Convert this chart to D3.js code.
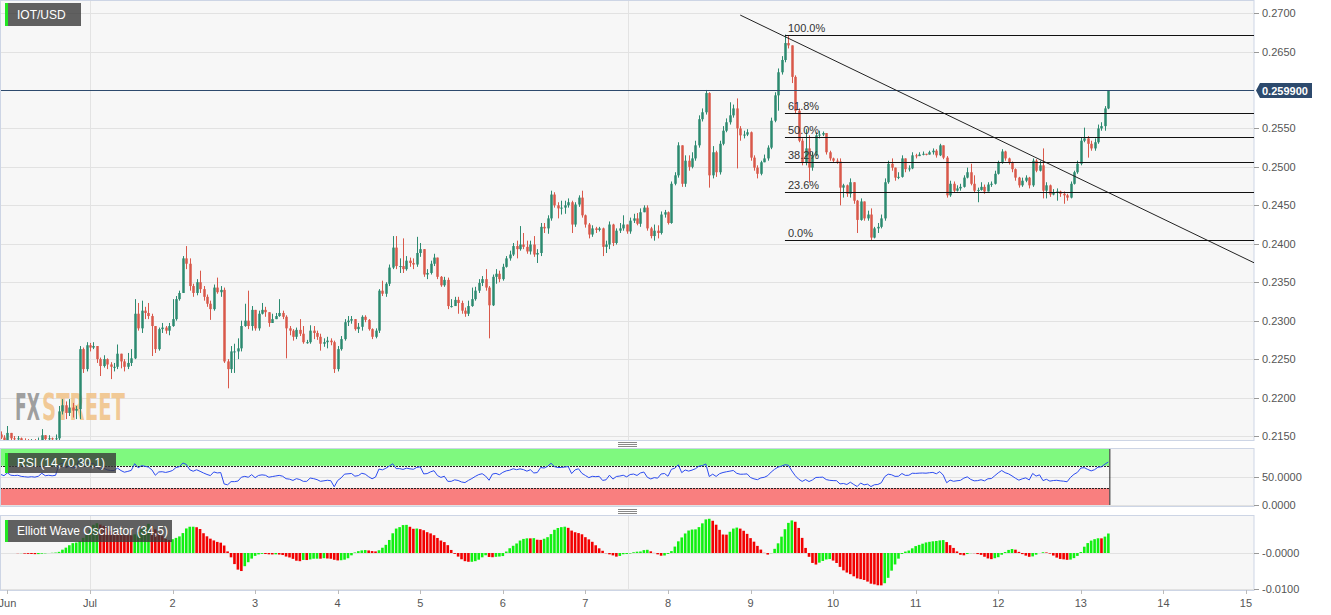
<!DOCTYPE html>
<html>
<head>
<meta charset="utf-8">
<script src="https://cdn.jsdelivr.net/npm/d3@7"></script>
<style>
  body { margin: 0; background: #fff; }
  svg text { font-family: "Liberation Sans", Arial, sans-serif; }
</style>
</head>
<body>
<script>
'use strict';

// ---- data (hourly candles, IOT/USD) ----
const symbol = 'IOT/USD';
const firstCandle = new Date(Date.UTC(2020, 5, 29, 22));
const firstOpen = 0.2152;

const closes = [
  0.2148,0.2144,0.2154,0.2147,0.2146,0.2147,0.2144,0.2143,0.2142,0.2143,0.2142,0.2144,0.2151,0.2146,0.2147,0.2146,0.2147,
  0.2182,0.2190,0.2180,0.2187,0.2183,0.2185,
  0.2263,0.2237,0.2268,0.2265,0.2267,0.2250,0.2241,0.2250,0.2243,0.2240,0.2240,0.2257,0.2247,0.2240,0.2245,0.2251,
  0.2309,0.2290,0.2313,0.2310,0.2306,0.2293,0.2263,0.2289,0.2291,0.2287,0.2293,
  0.2302,0.2328,0.2336,0.2381,0.2374,0.2345,0.2336,0.2350,0.2341,0.2331,0.2322,0.2315,0.2343,0.2337,0.2340,
  0.2247,0.2237,0.2260,0.2260,0.2264,0.2293,0.2300,0.2293,0.2314,0.2290,0.2309,0.2314,0.2311,0.2297,0.2302,0.2306,0.2310,0.2305,
  0.2290,0.2287,0.2279,0.2288,0.2283,0.2272,0.2272,0.2287,0.2284,0.2279,0.2270,0.2272,0.2274,0.2272,0.2237,0.2263,0.2276,
  0.2298,0.2300,0.2302,0.2289,0.2292,0.2305,0.2301,0.2289,0.2279,0.2287,
  0.2339,0.2335,0.2348,0.2369,0.2395,0.2371,0.2371,0.2367,0.2378,0.2375,0.2373,0.2388,0.2393,0.2360,0.2362,0.2374,0.2382,0.2357,0.2346,0.2353,
  0.2319,0.2319,0.2327,0.2323,0.2313,0.2309,0.2319,0.2328,0.2339,0.2349,0.2354,0.2343,0.2320,
  0.2357,0.2361,0.2354,0.2370,0.2381,0.2386,0.2397,0.2393,0.2399,0.2396,0.2390,0.2399,0.2386,0.2388,
  0.2422,0.2420,0.2433,0.2464,0.2450,0.2446,0.2447,0.2450,0.2454,0.2425,0.2451,0.2460,0.2437,0.2425,0.2412,0.2420,0.2418,0.2420,
  0.2396,0.2399,0.2425,0.2401,0.2417,0.2420,0.2425,0.2416,0.2430,0.2433,0.2426,0.2441,0.2447,0.2420,0.2410,0.2417,0.2414,0.2438,0.2441,0.2427,
  0.2478,0.2489,0.2528,0.2478,0.2508,0.2500,0.2511,0.2528,0.2562,0.2571,0.2596,0.2489,0.2519,0.2493,0.2530,0.2547,0.2558,0.2567,0.2576,
  0.2550,0.2541,0.2542,0.2545,0.2512,0.2499,0.2491,0.2506,0.2511,0.2525,0.2560,0.2593,0.2623,0.2639,0.2661,0.2658,
  0.2617,0.2573,0.2534,0.2506,0.2524,0.2499,0.2515,0.2541,0.2542,0.2544,0.2519,0.2511,0.2508,0.2507,
  0.2473,0.2476,0.2465,0.2480,0.2456,0.2431,0.2455,0.2433,0.2438,0.2408,0.2420,0.2422,0.2433,
  0.2480,0.2504,0.2499,0.2486,0.2487,0.2511,0.2497,0.2498,0.2515,0.2514,0.2516,0.2517,0.2516,0.2519,0.2521,0.2515,0.2528,0.2512,
  0.2463,0.2478,0.2469,0.2472,0.2474,0.2486,0.2493,0.2478,0.2469,0.2470,0.2474,0.2468,0.2477,0.2478,0.2491,0.2506,0.2520,
  0.2511,0.2506,0.2497,0.2486,0.2476,0.2482,0.2486,0.2476,0.2508,0.2495,0.2502,0.2469,0.2476,0.2464,0.2467,0.2468,0.2465,0.2463,0.2460,
  0.2478,0.2493,0.2504,0.2534,0.2537,0.2530,0.2524,0.2532,0.2550,0.2553,0.2576,0.2599
];

const highs = [
  0.2156,0.2151,0.2163,0.2154,0.2150,0.2150,0.2148,0.2147,0.2146,0.2146,0.2146,0.2148,0.2159,0.2151,0.2151,0.2148,0.2152,
  0.2189,0.2198,0.2195,0.2198,0.2193,0.2189,
  0.2267,0.2265,0.2272,0.2271,0.2272,0.2265,0.2252,0.2255,0.2251,0.2246,0.2245,0.2269,0.2254,0.2250,0.2258,0.2263,
  0.2328,0.2323,0.2326,0.2318,0.2323,0.2309,0.2293,0.2291,0.2297,0.2293,0.2297,
  0.2328,0.2332,0.2339,0.2384,0.2397,0.2381,0.2348,0.2354,0.2365,0.2345,0.2334,0.2326,0.2347,0.2356,0.2345,
  0.2343,0.2250,0.2267,0.2270,0.2277,0.2300,0.2322,0.2339,0.2319,0.2314,0.2313,0.2323,0.2318,0.2302,0.2309,0.2310,0.2328,0.2313,
  0.2307,0.2293,0.2289,0.2291,0.2302,0.2293,0.2275,0.2294,0.2293,0.2287,0.2283,0.2277,0.2279,0.2277,0.2274,0.2267,0.2280,
  0.2302,0.2306,0.2306,0.2302,0.2297,0.2307,0.2307,0.2302,0.2290,0.2290,
  0.2341,0.2352,0.2350,0.2373,0.2410,0.2410,0.2381,0.2407,0.2384,0.2382,0.2381,0.2409,0.2401,0.2393,0.2367,0.2378,0.2387,0.2375,0.2358,0.2357,
  0.2356,0.2328,0.2331,0.2331,0.2326,0.2317,0.2326,0.2343,0.2344,0.2354,0.2358,0.2367,0.2345,
  0.2360,0.2367,0.2365,0.2374,0.2384,0.2391,0.2401,0.2404,0.2423,0.2414,0.2404,0.2404,0.2410,0.2393,
  0.2427,0.2427,0.2437,0.2469,0.2467,0.2454,0.2456,0.2456,0.2459,0.2456,0.2454,0.2463,0.2469,0.2438,0.2427,0.2424,0.2422,0.2422,
  0.2421,0.2404,0.2429,0.2426,0.2420,0.2427,0.2437,0.2425,0.2434,0.2439,0.2440,0.2446,0.2450,0.2450,0.2422,0.2425,0.2424,0.2442,0.2444,0.2442,
  0.2481,0.2493,0.2532,0.2528,0.2515,0.2515,0.2519,0.2534,0.2567,0.2576,0.2600,0.2597,0.2527,0.2521,0.2534,0.2553,0.2563,0.2584,0.2581,
  0.2589,0.2553,0.2547,0.2549,0.2546,0.2515,0.2502,0.2508,0.2516,0.2528,0.2564,0.2597,0.2628,0.2644,0.2672,0.2670,
  0.2657,0.2619,0.2576,0.2537,0.2549,0.2541,0.2519,0.2545,0.2547,0.2546,0.2544,0.2521,0.2512,0.2511,
  0.2511,0.2478,0.2477,0.2485,0.2469,0.2457,0.2459,0.2452,0.2443,0.2446,0.2422,0.2427,0.2438,
  0.2485,0.2508,0.2511,0.2498,0.2493,0.2515,0.2508,0.2502,0.2519,0.2517,0.2519,0.2520,0.2517,0.2521,0.2524,0.2523,0.2530,0.2528,
  0.2514,0.2482,0.2481,0.2476,0.2478,0.2489,0.2499,0.2504,0.2489,0.2473,0.2480,0.2477,0.2480,0.2481,0.2495,0.2508,0.2523,
  0.2521,0.2512,0.2507,0.2498,0.2487,0.2486,0.2489,0.2487,0.2511,0.2510,0.2508,0.2524,0.2480,0.2477,0.2471,0.2472,0.2469,0.2468,0.2465,
  0.2481,0.2495,0.2508,0.2538,0.2551,0.2540,0.2534,0.2537,0.2555,0.2558,0.2579,0.2599
];

const lows = [
  0.2146,0.2142,0.2143,0.2143,0.2142,0.2143,0.2140,0.2139,0.2138,0.2139,0.2138,0.2140,0.2143,0.2143,0.2143,0.2142,0.2143,
  0.2144,0.2178,0.2172,0.2176,0.2174,0.2172,
  0.2172,0.2232,0.2234,0.2260,0.2263,0.2245,0.2228,0.2239,0.2237,0.2224,0.2234,0.2237,0.2238,0.2234,0.2237,0.2241,
  0.2250,0.2287,0.2284,0.2302,0.2302,0.2254,0.2258,0.2261,0.2284,0.2283,0.2281,
  0.2292,0.2300,0.2326,0.2336,0.2367,0.2339,0.2331,0.2333,0.2336,0.2326,0.2318,0.2301,0.2313,0.2335,0.2331,
  0.2245,0.2212,0.2232,0.2232,0.2250,0.2260,0.2292,0.2289,0.2287,0.2287,0.2287,0.2308,0.2305,0.2292,0.2297,0.2302,0.2305,0.2302,
  0.2251,0.2281,0.2274,0.2276,0.2280,0.2270,0.2270,0.2270,0.2276,0.2275,0.2261,0.2266,0.2264,0.2268,0.2232,0.2234,0.2261,
  0.2274,0.2293,0.2296,0.2287,0.2284,0.2287,0.2298,0.2287,0.2276,0.2277,
  0.2284,0.2332,0.2331,0.2345,0.2367,0.2367,0.2362,0.2362,0.2365,0.2370,0.2367,0.2370,0.2383,0.2357,0.2354,0.2360,0.2371,0.2354,0.2344,0.2344,
  0.2315,0.2317,0.2319,0.2309,0.2309,0.2305,0.2306,0.2318,0.2326,0.2336,0.2345,0.2339,0.2277,
  0.2319,0.2348,0.2350,0.2352,0.2369,0.2378,0.2384,0.2381,0.2391,0.2393,0.2387,0.2386,0.2383,0.2375,
  0.2384,0.2414,0.2413,0.2430,0.2447,0.2433,0.2438,0.2439,0.2447,0.2414,0.2422,0.2448,0.2434,0.2421,0.2407,0.2409,0.2414,0.2416,
  0.2384,0.2388,0.2393,0.2397,0.2399,0.2414,0.2417,0.2413,0.2413,0.2427,0.2424,0.2422,0.2441,0.2417,0.2407,0.2404,0.2407,0.2412,0.2434,0.2425,
  0.2426,0.2476,0.2486,0.2474,0.2474,0.2495,0.2498,0.2508,0.2525,0.2559,0.2568,0.2473,0.2485,0.2487,0.2490,0.2528,0.2545,0.2555,0.2564,
  0.2498,0.2534,0.2537,0.2540,0.2508,0.2495,0.2485,0.2489,0.2506,0.2508,0.2523,0.2558,0.2573,0.2620,0.2636,0.2654,
  0.2609,0.2570,0.2532,0.2502,0.2502,0.2480,0.2495,0.2514,0.2537,0.2540,0.2516,0.2508,0.2506,0.2504,
  0.2450,0.2460,0.2461,0.2460,0.2452,0.2414,0.2430,0.2430,0.2430,0.24045,0.2407,0.2414,0.2420,
  0.2430,0.2478,0.2495,0.2482,0.2484,0.2486,0.2493,0.2494,0.2497,0.2511,0.2514,0.2515,0.2515,0.2516,0.2516,0.2512,0.2514,0.2510,
  0.2460,0.2461,0.2467,0.2468,0.2469,0.2473,0.2485,0.2476,0.2467,0.2454,0.2469,0.2465,0.2470,0.2474,0.2477,0.2490,0.2504,
  0.2508,0.2503,0.2493,0.2482,0.2473,0.2474,0.2480,0.2472,0.2474,0.2493,0.2494,0.2459,0.2459,0.2461,0.2463,0.2456,0.2461,0.2452,0.2456,
  0.2459,0.2477,0.2491,0.2502,0.2532,0.2512,0.2521,0.2521,0.2530,0.2547,0.2547,0.2575
];

const lastPrice = 0.2599;
const fibStart = new Date(Date.UTC(2020, 6, 9, 10));
const fibHigh = 0.2672;
const fibLow = 0.24045;
const fibLevels = [1, 0.618, 0.5, 0.382, 0.236, 0];
const fibLabels = ['100.0%', '61.8%', '50.0%', '38.2%', '23.6%', '0.0%'];
const trendPoints = [
  { date: new Date(Date.UTC(2020, 6, 8, 21)), price: 0.26974 },
  { date: new Date(Date.UTC(2020, 6, 15, 2, 20)), price: 0.23753 }
];

const priceTicks = [0.2150, 0.2200, 0.2250, 0.2300, 0.2350, 0.2400, 0.2450, 0.2500, 0.2550, 0.2600, 0.2650, 0.2700];
const rsiTicks = [0, 50];
const rsiTickLabels = ['0.0000', '50.0000'];
const rsiBands = [70, 30];
// average gain / loss carried in from the hours before the first candle
const rsiSeedGain = 0.0004, rsiSeedLoss = 0.0003;
const ewoTicks = [0, -0.01];
const ewoTickLabels = ['-0.0000', '-0.0100'];
const dayLabels = ['Jun', 'Jul', '2', '3', '4', '5', '6', '7', '8', '9', '10', '11', '12', '13', '14', '15'];
const gridDates = [new Date(Date.UTC(2020, 6, 1)), new Date(Date.UTC(2020, 6, 7, 12, 20))];

// ---- layout ----
var width = 1331, height = 615;
var plotRight = 1254;
var main = { top: 0, bottom: 440 },
    rsiP = { top: 448, bottom: 506 },
    ewoP = { top: 515, bottom: 590 };

var green = '#2c8a70', red = '#d9584a';

var svg = d3.select('body').append('svg')
  .attr('width', width)
  .attr('height', height);

var x = d3.scaleUtc()
  .domain([new Date(Date.UTC(2020, 5, 29, 21, 51)), new Date(Date.UTC(2020, 6, 15, 2, 20))])
  .range([0, plotRight]);
var y = d3.scaleLinear().domain([0.21448, 0.27170]).range([main.bottom, main.top]);
var yRsi = d3.scaleLinear().domain([-1.8, 101.8]).range([rsiP.bottom, rsiP.top]);
var yEwo = d3.scaleLinear().domain([-0.01028, 0.01056]).range([ewoP.bottom, ewoP.top]);

var candles = closes.map(function(c, i) {
  var o = i ? closes[i - 1] : firstOpen;
  return {
    date: d3.utcHour.offset(firstCandle, i),
    open: o,
    close: c,
    high: Math.max(highs[i], o, c),
    low: Math.min(lows[i], o, c)
  };
});

// RSI(14) with Wilder smoothing
(function() {
  var ag = rsiSeedGain, al = rsiSeedLoss;
  candles.forEach(function(d) {
    var ch = d.close - d.open;
    ag = (ag * 13 + Math.max(ch, 0)) / 14;
    al = (al * 13 + Math.max(-ch, 0)) / 14;
    d.rsi = al === 0 ? 100 : 100 - 100 / (1 + ag / al);
  });
})();

// Elliott Wave Oscillator: SMA(5) - SMA(34) of the median price
function sma(i, n) {
  var s = Math.max(0, i - n + 1);
  return d3.mean(candles.slice(s, i + 1), function(d) { return (d.high + d.low) / 2; });
}
candles.forEach(function(d, i) {
  d.ewo = sma(i, 5) - sma(i, 34);
  d.ewoUp = i === 0 ? true : d.ewo >= candles[i - 1].ewo;
});

// ---- panels ----
[main, rsiP, ewoP].forEach(function(p, k) {
  svg.append('rect')
    .attr('x', 0.5).attr('y', p.top + 0.5)
    .attr('width', plotRight - 0.5).attr('height', p.bottom - p.top)
    .attr('fill', '#f7f7f7')
    .attr('stroke', '#cdd5e5');
  svg.append('clipPath').attr('id', 'clip' + k)
    .append('rect').attr('x', 1).attr('y', p.top + 1)
    .attr('width', plotRight - 1).attr('height', p.bottom - p.top - 1);
});

// vertical grid
[main, rsiP, ewoP].forEach(function(p) {
  svg.append('g').selectAll('line').data(gridDates).enter().append('line')
    .attr('x1', function(d) { return Math.round(x(d)) + 0.5; })
    .attr('x2', function(d) { return Math.round(x(d)) + 0.5; })
    .attr('y1', p.top + 1).attr('y2', p.bottom)
    .attr('stroke', '#e3e3e3');
});

// horizontal grids + y axes (labels hidden behind the price tag are skipped)
function yAxis(scale, ticks, labels, hideNear) {
  svg.append('g').selectAll('line').data(ticks).enter().append('line')
    .attr('x1', 1).attr('x2', plotRight)
    .attr('y1', function(d) { return Math.round(scale(d)) + 0.5; })
    .attr('y2', function(d) { return Math.round(scale(d)) + 0.5; })
    .attr('stroke', '#e2e2e2');
  var shown = ticks.map(function(d, i) { return { v: d, label: labels[i] }; })
    .filter(function(t) { return hideNear == null || Math.abs(scale(t.v) - scale(hideNear)) > 9; });
  var g = svg.append('g');
  g.selectAll('line').data(shown).enter().append('line')
    .attr('x1', plotRight).attr('x2', plotRight + 5)
    .attr('y1', function(d) { return Math.round(scale(d.v)) + 0.5; })
    .attr('y2', function(d) { return Math.round(scale(d.v)) + 0.5; })
    .attr('stroke', '#999');
  g.selectAll('text').data(shown).enter().append('text')
    .attr('x', plotRight + 8)
    .attr('y', function(d) { return scale(d.v) + 4; })
    .attr('font-size', 11)
    .attr('fill', '#555')
    .text(function(d) { return d.label; });
}
yAxis(y, priceTicks, priceTicks.map(d3.format('.4f')), lastPrice);
yAxis(yRsi, rsiTicks, rsiTickLabels);
yAxis(yEwo, ewoTicks, ewoTickLabels);

// x axis
var days = d3.utcDay.range(new Date(Date.UTC(2020, 5, 30)), new Date(Date.UTC(2020, 6, 16)));
var xg = svg.append('g');
xg.selectAll('line').data(days).enter().append('line')
  .attr('x1', function(d) { return Math.round(x(d)) + 0.5; })
  .attr('x2', function(d) { return Math.round(x(d)) + 0.5; })
  .attr('y1', ewoP.bottom).attr('y2', ewoP.bottom + 4)
  .attr('stroke', '#bbb');
xg.selectAll('text').data(days).enter().append('text')
  .attr('x', function(d) { return x(d); })
  .attr('y', 607)
  .attr('text-anchor', 'middle')
  .attr('font-size', 11)
  .attr('fill', '#555')
  .text(function(d, i) { return dayLabels[i]; });

// watermark: each word squeezed to its box with a horizontal scale
[
  { text: 'FX', x0: 15, w: 25, fill: '#8f8f8f' },
  { text: 'STREET', x0: 42, w: 83, fill: '#f1c185' }
].forEach(function(m) {
  var g = svg.append('g');
  var t = g.append('text')
    .attr('font-weight', 'bold').attr('font-size', 37)
    .attr('fill', m.fill).attr('fill-opacity', 0.85)
    .style('font-family', '"DejaVu Sans Condensed", sans-serif')
    .text(m.text);
  var natural = t.node().getComputedTextLength();
  g.attr('transform', 'translate(' + m.x0 + ',420) scale(' + (m.w / natural) + ',1)');
});

// ---- candles ----
var cg = svg.append('g').attr('clip-path', 'url(#clip0)');
var candle = cg.selectAll('g').data(candles).enter().append('g')
  .attr('fill', function(d) { return d.close >= d.open ? green : red; })
  .attr('stroke', function(d) { return d.close >= d.open ? green : red; });
candle.append('line')
  .attr('x1', function(d) { return Math.round(x(d.date)) + 0.5; })
  .attr('x2', function(d) { return Math.round(x(d.date)) + 0.5; })
  .attr('y1', function(d) { return y(d.high); })
  .attr('y2', function(d) { return y(d.low); });
candle.append('rect')
  .attr('stroke', 'none')
  .attr('x', function(d) { return Math.round(x(d.date)) - 0.75; })
  .attr('width', 2.5)
  .attr('y', function(d) { return y(Math.max(d.open, d.close)); })
  .attr('height', function(d) { return Math.max(1, Math.abs(y(d.open) - y(d.close))); });

// last price line
cg.append('line')
  .attr('x1', 0).attr('x2', plotRight)
  .attr('y1', Math.round(y(lastPrice)) - 0.5).attr('y2', Math.round(y(lastPrice)) - 0.5)
  .attr('stroke', '#2d4a6d');

// trend line
var tScale = d3.scaleLinear()
  .domain(trendPoints.map(function(d) { return +d.date; }))
  .range(trendPoints.map(function(d) { return d.price; }));
cg.append('line')
  .attr('x1', x(trendPoints[0].date)).attr('y1', y(trendPoints[0].price))
  .attr('x2', plotRight).attr('y2', y(tScale(+x.invert(plotRight))))
  .attr('stroke', '#222').attr('stroke-width', 1);

// fibonacci retracement
var fib = cg.append('g').selectAll('g').data(fibLevels).enter().append('g');
fib.append('line')
  .attr('x1', x(fibStart)).attr('x2', plotRight)
  .attr('y1', function(d) { return Math.round(y(fibLow + d * (fibHigh - fibLow))) + 0.5; })
  .attr('y2', function(d) { return Math.round(y(fibLow + d * (fibHigh - fibLow))) + 0.5; })
  .attr('stroke', '#111').attr('stroke-width', 1.2);
fib.append('text')
  .attr('x', x(fibStart) + 3)
  .attr('y', function(d) { return y(fibLow + d * (fibHigh - fibLow)) - 3; })
  .attr('font-size', 11)
  .attr('fill', '#333')
  .text(function(d, i) { return fibLabels[i]; });

// price tag
var py = Math.round(y(lastPrice)) - 0.5;
svg.append('path')
  .attr('d', 'M' + (plotRight + 2) + ',' + py + 'L' + (plotRight + 6) + ',' + (py - 7.5) + 'H' + 1312 + 'V' + (py + 7.5) + 'H' + (plotRight + 6) + 'Z')
  .attr('fill', '#2d4a6d');
svg.append('text')
  .attr('x', plotRight + 8).attr('y', py + 4)
  .attr('font-size', 11).attr('font-weight', 'bold').attr('fill', '#fff')
  .text(d3.format('.6f')(lastPrice));

// ---- RSI panel ----
var rg = svg.append('g').attr('clip-path', 'url(#clip1)');
var lastX = x(candles[candles.length - 1].date) + 1;
rg.append('rect')
  .attr('x', 0).attr('width', lastX)
  .attr('y', yRsi(100)).attr('height', yRsi(rsiBands[0]) - yRsi(100))
  .attr('fill', '#7ff97f');
rg.append('rect')
  .attr('x', 0).attr('width', lastX)
  .attr('y', yRsi(rsiBands[1])).attr('height', yRsi(0) - yRsi(rsiBands[1]))
  .attr('fill', '#f97f7f');
rsiBands.forEach(function(b) {
  rg.append('line')
    .attr('x1', 0).attr('x2', lastX)
    .attr('y1', Math.round(yRsi(b)) + 0.5).attr('y2', Math.round(yRsi(b)) + 0.5)
    .attr('stroke', '#222').attr('stroke-dasharray', '2,1');
});
rg.append('line')
  .attr('x1', lastX + 0.5).attr('x2', lastX + 0.5)
  .attr('y1', yRsi(100)).attr('y2', yRsi(0))
  .attr('stroke', '#222');
rg.append('path')
  .datum(candles)
  .attr('fill', 'none')
  .attr('stroke', '#2c4cf0')
  .attr('stroke-width', 1)
  .attr('d', d3.line()
    .x(function(d) { return x(d.date); })
    .y(function(d) { return yRsi(d.rsi); }));

// ---- EWO panel ----
var eg = svg.append('g').attr('clip-path', 'url(#clip2)');
eg.selectAll('rect').data(candles).enter().append('rect')
  .attr('x', function(d) { return x(d.date) - 1.3; })
  .attr('width', 2.6)
  .attr('y', function(d) { return Math.min(yEwo(0), yEwo(d.ewo)); })
  .attr('height', function(d) { return Math.abs(yEwo(d.ewo) - yEwo(0)); })
  .attr('fill', function(d) { return d.ewoUp ? '#11f011' : '#f20000'; });

// ---- label boxes ----
function labelBox(x0, y0, w, h, text) {
  var g = svg.append('g');
  g.append('rect').attr('x', x0).attr('y', y0).attr('width', w).attr('height', h)
    .attr('fill', '#3a3a3a').attr('fill-opacity', 0.8);
  g.append('rect').attr('x', x0).attr('y', y0).attr('width', 3).attr('height', h)
    .attr('fill', '#22e622');
  g.append('text').attr('x', x0 + 12).attr('y', y0 + h / 2 + 4)
    .attr('font-size', 12).attr('fill', '#fff').text(text);
}
labelBox(5, 3, 76, 23, symbol);
labelBox(5, 453, 111, 20, 'RSI (14,70,30,1)');
labelBox(5, 520, 167, 22, 'Elliott Wave Oscillator (34,5)');

// panel drag handles
[444, 511].forEach(function(hy) {
  svg.append('g').selectAll('line').data([-2, 0, 2]).enter().append('line')
    .attr('x1', 618).attr('x2', 637)
    .attr('y1', function(d) { return hy + d + 0.5; })
    .attr('y2', function(d) { return hy + d + 0.5; })
    .attr('stroke', '#888');
});
</script>
</body>
</html>
